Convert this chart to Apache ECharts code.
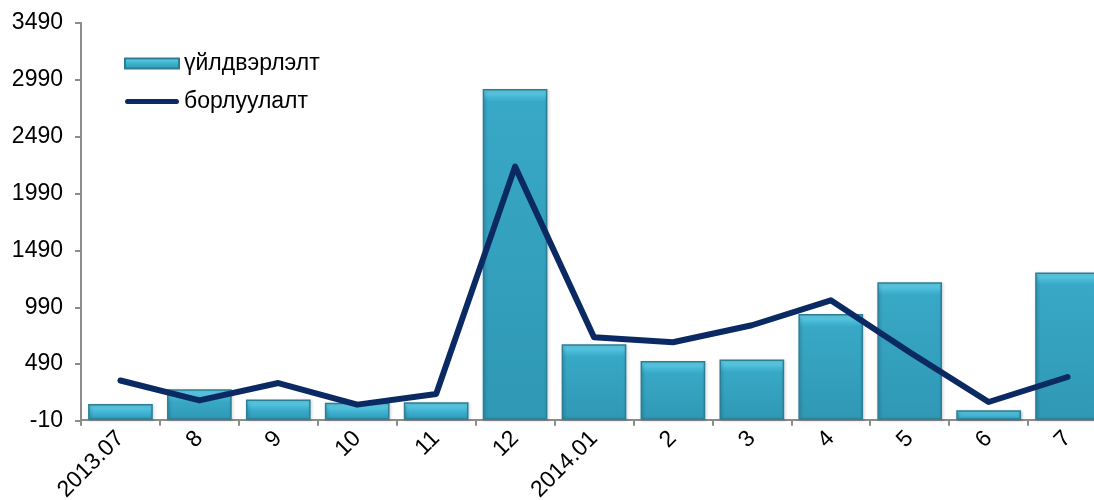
<!DOCTYPE html>
<html>
<head>
<meta charset="utf-8">
<script src="https://cdn.jsdelivr.net/npm/echarts@6/dist/echarts.min.js"></script>
<style>html,body{margin:0;padding:0;background:#fff}#c{width:1094px;height:500px}</style>
</head>
<body>
<div id="c"></div>
<script>
const categories = ['2013.07','8','9','10','11','12','2014.01','2','3','4','5','6','7'];
const production = [140, 270, 180, 150, 155, 2910, 665, 518, 530, 930, 1210, 85, 1297];
const sales = [346, 171, 324, 134, 227, 2227, 727, 683, 832, 1051, 595, 157, 377];
const yTicks = [-10, 490, 990, 1490, 1990, 2490, 2990, 3490];
const seriesNames = ['үйлдвэрлэлт', 'борлуулалт'];

const chart = echarts.init(document.getElementById('c'));
const font = 'Liberation Sans, Arial, sans-serif';
function bevel(frac) {
  return new echarts.graphic.LinearGradient(0, 0, 0, 1, [
    {offset: 0, color: '#6fd8ef'},
    {offset: frac, color: '#45b8d6'},
    {offset: Math.min(frac * 1.6, 1), color: '#38a8c6'},
    {offset: 1, color: '#2f98b5'}
  ]);
}
const option = {
  animation: false,
  grid: {left: 81, right: -13, top: 23, bottom: 79, outerBoundsMode: 'none', containLabel: false},
  legend: {
    orient: 'vertical', left: 119, top: 47, itemGap: 15,
    itemWidth: 54, itemHeight: 10,
    textStyle: {fontFamily: font, fontSize: 23, color: '#000'},
    data: [
      {name: seriesNames[0], icon: 'rect', itemStyle: {color: bevel(0.4)}},
      {name: seriesNames[1], icon: 'path://M2.5,0 L51.5,0 A2.5,2.5 0 0 1 51.5,5 L2.5,5 A2.5,2.5 0 0 1 2.5,0 Z'}
    ]
  },
  xAxis: {
    type: 'category', data: categories, boundaryGap: true,
    axisLine: {lineStyle: {color: '#8c8c8c', width: 2}},
    axisTick: {show: true, length: 6, alignWithLabel: false, lineStyle: {color: '#8c8c8c', width: 2}},
    axisLabel: {rotate: 45, interval: 0, fontFamily: font, fontSize: 23, color: '#000', margin: 14}
  },
  yAxis: {
    type: 'value', min: -10, max: 3490,
    axisLine: {show: true, lineStyle: {color: '#8c8c8c', width: 2}},
    axisTick: {show: true, length: 6, customValues: yTicks, lineStyle: {color: '#8c8c8c', width: 2}},
    axisLabel: {customValues: yTicks, formatter: v => String(v), fontFamily: font, fontSize: 23, color: '#000', margin: 18},
    splitLine: {show: false}
  },
  series: [
    {
      name: seriesNames[0], type: 'bar', data: production, barCategoryGap: '18%',
      itemStyle: {color: '#37a6c4', borderColor: '#2a7f97', borderWidth: 1.5,
        shadowColor: 'rgba(0,0,0,0.25)', shadowBlur: 3, shadowOffsetX: 1, shadowOffsetY: 1}
    },
    {
      name: seriesNames[1], type: 'line', data: sales, symbol: 'none',
      lineStyle: {color: '#0b2a63', width: 6, cap: 'round', join: 'round'},
      itemStyle: {color: '#0b2a63'}
    }
  ]
};
chart.setOption(option);
// top bevel of about 8px, expressed as a fraction of each bar's drawn height
const base = chart.convertToPixel({yAxisIndex: 0}, -10);
option.series[0].data = production.map(v => {
  const h = Math.max(1, base - chart.convertToPixel({yAxisIndex: 0}, v));
  return {value: v, itemStyle: {color: bevel(Math.min(8 / h, 0.5))}};
});
chart.setOption(option);
</script>
</body>
</html>
